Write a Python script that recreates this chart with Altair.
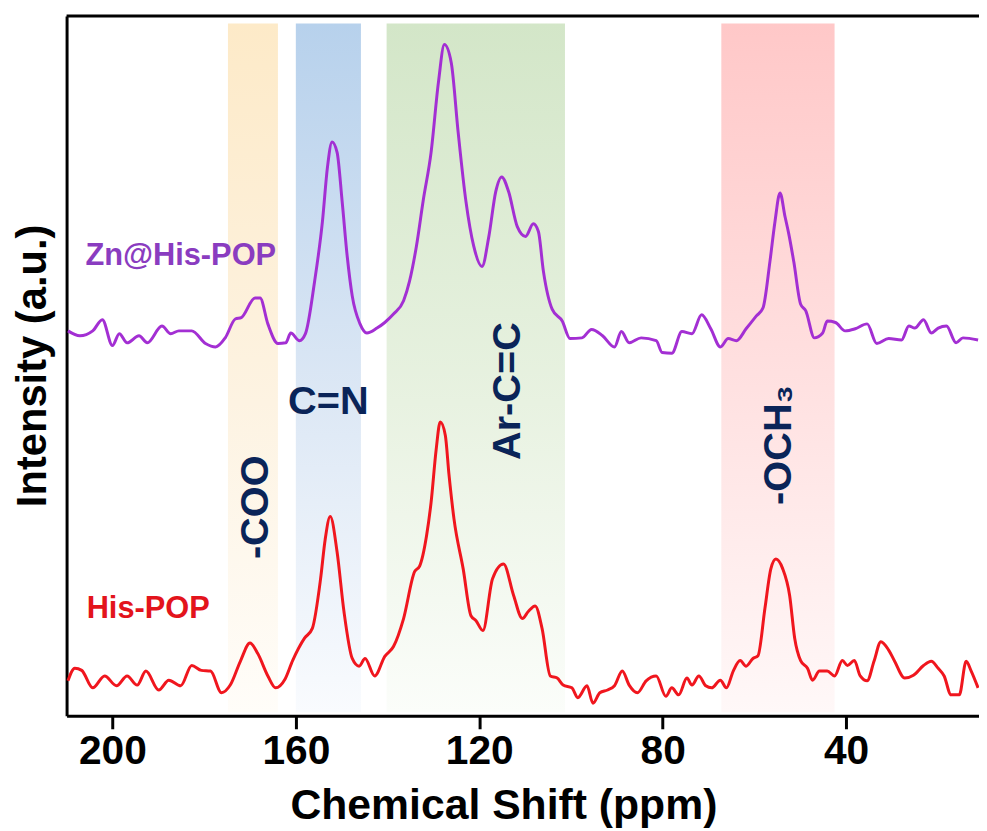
import altair as alt
import pandas as pd

# ---------------- data ----------------
purple_ppm = [209.7, 207.1, 204.3, 202.2, 200.0, 198.5, 196.8, 194.2, 192.4, 189.2, 187.3, 185.5, 182.7, 179.7,
              177.5, 175.4, 173.2, 171.9, 168.9, 167.8, 166.1, 163.9, 162.2, 161.1, 159.2, 157.9, 155.9, 154.2,
              153.1, 152.1, 151.0, 149.9, 148.8, 147.7, 146.0, 144.5, 142.3, 140.6, 138.7, 136.5, 135.2, 133.7,
              132.2, 130.5, 128.9, 127.6, 126.1, 124.6, 122.9, 121.2, 119.4, 117.9, 116.4, 115.1, 113.6, 111.7,
              109.9, 108.2, 107.1, 106.0, 104.1, 101.9, 100.2, 97.6, 95.5, 93.1, 90.5, 89.0, 87.3, 84.7, 81.4,
              80.1, 78.0, 75.8, 73.6, 71.5, 69.5, 67.4, 65.7, 63.9, 61.8, 59.6, 58.1, 56.6, 55.5, 54.4, 53.3,
              52.5, 51.4, 49.9, 48.8, 46.9, 45.1, 44.1, 42.3, 40.2, 38.0, 35.4, 33.3, 30.7, 27.9, 26.3, 25.0,
              23.1, 21.4, 19.9, 18.1, 16.0, 14.5, 11.2]
purple_int = [55.0, 54.3, 55.0, 56.6, 52.9, 54.6, 53.3, 54.3, 53.3, 55.7, 54.6, 55.0, 55.0, 53.2,
              52.7, 54.0, 56.7, 56.9, 59.7, 59.7, 56.0, 53.2, 53.3, 54.7, 53.6, 54.6, 62.1, 70.6,
              78.4, 82.0, 80.5, 73.5, 65.7, 60.0, 56.0, 54.7, 55.4, 56.2, 57.4, 59.3, 62.1, 67.1,
              73.7, 80.5, 90.5, 95.9, 93.3, 83.4, 73.5, 67.1, 64.2, 68.5, 74.9, 77.0, 74.9, 69.9,
              68.5, 70.3, 69.2, 63.5, 58.1, 56.4, 53.9, 54.0, 55.2, 54.3, 52.7, 54.9, 53.3, 54.0, 53.6,
              51.9, 51.8, 54.9, 54.6, 57.3, 55.3, 52.7, 53.9, 53.6, 55.3, 57.1, 58.3, 64.9, 70.6, 74.7, 71.3,
              68.9, 64.9, 58.8, 57.9, 54.0, 54.7, 56.4, 56.2, 55.0, 55.3, 56.0, 53.2, 53.9, 53.7, 55.7, 55.4,
              56.6, 54.7, 55.4, 55.7, 53.3, 54.0, 53.7]

red_ppm = [209.7, 208.2, 206.7, 204.3, 201.7, 199.1, 196.8, 194.6, 192.7, 189.9, 187.7, 185.1, 182.7, 180.6,
           178.6, 176.2, 174.3, 172.1, 170.0, 168.3, 166.1, 164.4, 162.4, 160.7, 158.1, 156.4, 154.6, 153.6,
           152.5, 151.0, 149.5, 147.7, 146.2, 144.9, 142.8, 140.6, 138.7, 136.5, 134.1, 133.0, 131.5, 130.5,
           129.4, 128.5, 127.4, 126.6, 125.5, 123.5, 121.8, 120.7, 119.2, 117.1, 114.7, 112.5, 110.6, 109.3,
           107.8, 106.3, 104.5, 103.0, 101.7, 99.8, 98.5, 96.5, 95.2, 93.7, 92.0, 90.5, 88.8, 87.3, 85.5,
           83.6, 81.4, 79.3, 78.0, 76.5, 74.7, 73.6, 72.1, 70.6, 69.3, 67.4, 66.1, 64.6, 63.1, 61.8, 60.3,
           59.2, 57.7, 56.4, 55.3, 53.8, 52.3, 51.2, 49.9, 48.4, 47.3, 45.8, 44.1, 42.5, 40.8, 39.7, 38.2,
           36.9, 35.4, 33.9, 32.4, 30.7, 29.4, 27.2, 25.3, 23.1, 21.4, 19.9, 18.6, 17.1, 15.3, 13.8, 12.7, 11.2]
red_int = [5.0, 6.8, 6.5, 4.0, 5.7, 4.3, 5.7, 4.4, 6.4, 3.7, 5.1, 4.3, 7.2, 6.5,
           6.4, 3.3, 4.4, 7.8, 10.4, 8.9, 5.7, 4.0, 5.2, 7.9, 11.1, 12.5, 19.6, 25.2,
           28.5, 23.4, 14.9, 8.2, 7.1, 8.2, 5.7, 8.5, 9.9, 13.9, 20.6, 21.4, 25.7, 30.5,
           38.0, 42.0, 40.1, 34.5, 28.1, 21.0, 14.3, 13.6, 12.2, 19.6, 21.7, 17.2, 13.9, 14.9,
           15.7, 12.5, 5.7, 5.4, 4.4, 4.0, 2.6, 4.3, 1.8, 3.3, 3.7, 4.3, 6.4, 4.4, 3.3,
           5.0, 5.7, 2.8, 4.0, 3.0, 5.4, 4.4, 5.7, 4.3, 4.0, 5.1, 4.0, 6.4, 7.9, 7.1, 8.2,
           8.6, 15.3, 21.0, 22.4, 21.0, 17.2, 11.1, 7.9, 6.8, 5.1, 6.4, 6.4, 5.7, 7.9, 7.2, 7.9,
           5.7, 5.0, 7.8, 10.6, 9.4, 7.8, 5.4, 5.8, 7.2, 7.8, 6.8, 5.7, 3.0, 3.0, 7.8, 6.4, 4.0]

band_names = ["COO", "CN", "Ar", "OCH3"]
band_start = [174.8, 160.0, 140.2, 67.2]
band_end = [163.9, 145.8, 101.3, 42.5]
band_top = [98.9, 98.9, 98.9, 98.9]
band_bottom = [0.5, 0.5, 0.5, 0.5]

annot_text = ["-COO", "C=N", "Ar-C=C", "-OCH\u2083"]
annot_ppm = [168.7, 152.9, 113.8, 54.6]
annot_int = [29.8, 44.8, 46.4, 38.7]

label_text = ["Zn@His-POP", "His-POP"]
label_ppm = [185.1, 192.2]
label_int = [65.7, 15.2]

tick_values = [200, 160, 120, 80, 40]

# ---------------- styles ----------------
FONT = "Liberation Sans"
band_stops = {
    "COO": ["#fdeac8", "#fdf3e2", "#fffdf9"],
    "CN": ["#b7d1ec", "#dde8f5", "#f9fbfe"],
    "Ar": ["#d3e6c8", "#e8f2e1", "#fbfdfa"],
    "OCH3": ["#ffc8c8", "#ffe2e2", "#fff8f8"],
}
annot_angle = [270, 0, 270, 270]
label_color = ["#8a3cc0", "#e3141c"]
line_purple = "#a32fd3"
line_red = "#f0161e"
NAVY = "#0a2458"

x_scale = alt.Scale(domain=[210, 11], nice=False, zero=False)
y_scale = alt.Scale(domain=[0, 100], nice=False, zero=False)

x_axis = alt.Axis(values=tick_values, format="d", title="Chemical Shift (ppm)", grid=False,
                  labelFont=FONT, labelFontSize=41, labelFontWeight="bold", labelColor="black",
                  labelPadding=3, tickSize=13, tickWidth=3, tickColor="black",
                  domainWidth=3, domainColor="black",
                  titleFont=FONT, titleFontSize=43, titleFontWeight="bold", titleColor="black",
                  titleBaseline="alphabetic", titleAlign="center", titleX=440, titleY=103)
y_axis = alt.Axis(labels=False, ticks=False, grid=False, domainWidth=3, domainColor="black",
                  title="Intensity (a.u.)", titleFont=FONT, titleFontSize=42, titleFontWeight="bold",
                  titleColor="black", titleAngle=270, titleBaseline="middle", titleAlign="center",
                  titleX=-34, titleY=352)

layers = []

# bands with vertical gradients
for i, name in enumerate(band_names):
    dfb = pd.DataFrame({"x1": [band_start[i]], "x2": [band_end[i]],
                        "y1": [band_top[i]], "y2": [band_bottom[i]]})
    s = band_stops[name]
    grad = alt.Gradient(gradient="linear",
                        stops=[alt.GradientStop(color=s[0], offset=0),
                               alt.GradientStop(color=s[1], offset=0.55),
                               alt.GradientStop(color=s[2], offset=1)],
                        x1=0, x2=0, y1=0, y2=1)
    layers.append(
        alt.Chart(dfb).mark_rect(color=grad).encode(
            x=alt.X("x1:Q", scale=x_scale, axis=x_axis),
            x2="x2:Q",
            y=alt.Y("y1:Q", scale=y_scale, axis=y_axis),
            y2="y2:Q",
        )
    )

df_p = pd.DataFrame({"ppm": purple_ppm, "v": purple_int})
df_r = pd.DataFrame({"ppm": red_ppm, "v": red_int})

for dfl, col in [(df_p, line_purple), (df_r, line_red)]:
    layers.append(
        alt.Chart(dfl).mark_line(color=col, strokeWidth=3, interpolate="monotone").encode(
            x=alt.X("ppm:Q", scale=x_scale, axis=x_axis),
            y=alt.Y("v:Q", scale=y_scale, axis=y_axis),
        )
    )

# top frame line
layers.append(
    alt.Chart(pd.DataFrame({"a": [0]})).mark_rule(color="black", strokeWidth=3).encode(
        y=alt.value(0)
    )
)

# peak annotations
for i, t in enumerate(annot_text):
    dft = pd.DataFrame({"ppm": [annot_ppm[i]], "v": [annot_int[i]], "t": [t]})
    layers.append(
        alt.Chart(dft).mark_text(font=FONT, fontSize=40, fontWeight="bold", color=NAVY,
                                 angle=annot_angle[i], align="center", baseline="middle").encode(
            x=alt.X("ppm:Q", scale=x_scale), y=alt.Y("v:Q", scale=y_scale), text="t:N")
    )

# sample labels
for i, t in enumerate(label_text):
    dft = pd.DataFrame({"ppm": [label_ppm[i]], "v": [label_int[i]], "t": [t]})
    layers.append(
        alt.Chart(dft).mark_text(font=FONT, fontSize=31, fontWeight="bold", color=label_color[i],
                                 align="center", baseline="middle").encode(
            x=alt.X("ppm:Q", scale=x_scale), y=alt.Y("v:Q", scale=y_scale), text="t:N")
    )

chart = alt.layer(*layers).properties(
    width=919, height=705,
    autosize=alt.AutoSizeParams(type="none"),
    padding={"left": 59, "top": 5, "right": 0, "bottom": 112},
    background="white",
).configure_view(stroke=None)

chart.save("out.html", embed_options={"renderer": "svg", "actions": False})
